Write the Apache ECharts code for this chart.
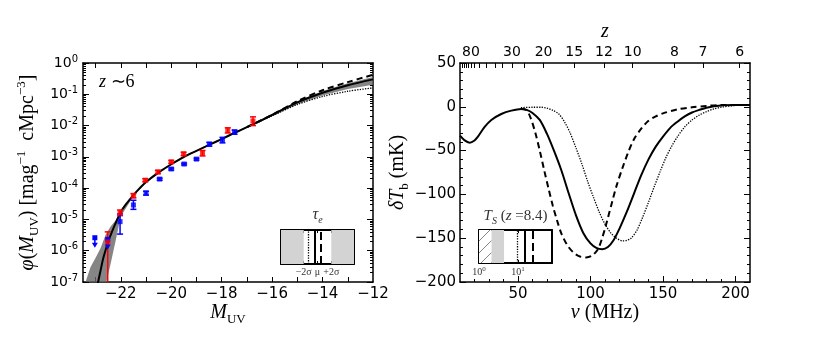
<!DOCTYPE html>
<html>
<head>
<meta charset="utf-8">
<script src="https://cdn.jsdelivr.net/npm/echarts@6/dist/echarts.min.js"></script>
<style>
html, body { margin: 0; padding: 0; background: #fff; }
#main { width: 814px; height: 354px; }
</style>
</head>
<body>
<div id="main"></div>
<script>
// ---------- left panel: UV luminosity function, z~6 ----------
var magModel = [-22.95, -22.9, -22.8, -22.7, -22.6, -22.5, -22.4, -22.25, -22.0, -21.75, -21.5, -21.25, -21.0, -20.5, -20.0, -19.5, -19.0, -18.5, -18.0, -17.5, -17.0, -16.5, -16.0, -15.0, -14.0, -13.0, -12.0];
var phiSolid = [6e-8, 1.0e-7, 2.4e-7, 5.6e-7, 1.07e-6, 2.0e-6, 3.2e-6, 6.3e-6, 1.74e-5, 3.4e-5, 6.0e-5, 1.0e-4, 1.58e-4, 3.2e-4, 5.8e-4, 1.0e-3, 1.55e-3, 2.4e-3, 3.7e-3, 5.8e-3, 8.9e-3, 1.38e-2, 2.2e-2, 5.5e-2, 0.112, 0.195, 0.30];

var magTail = [-17, -16, -15, -14, -13, -12];
var phiDashed = [8.9e-3, 2.2e-2, 6.0e-2, 0.135, 0.245, 0.42];
var phiDotted = [8.9e-3, 2.05e-2, 4.7e-2, 8.5e-2, 0.125, 0.16];

// uncertainty band around the fiducial model
var magBand = [-23.4, -23.2, -23.0, -22.8, -22.6, -22.4, -22.2, -22.0, -21.5, -21.0, -20.0, -19.0, -18.0, -17.0, -16.0, -15.0, -14.0, -13.0, -12.0];
var phiBandHi = [1.0e-7, 3.0e-7, 6.0e-7, 1.23e-6, 3.3e-6, 6.0e-6, 9.5e-6, 2.0e-5, 6.5e-5, 1.66e-4, 6.0e-4, 1.62e-3, 3.9e-3, 9.3e-3, 2.35e-2, 6.0e-2, 0.128, 0.225, 0.36];
var phiBandLo = [1.0e-7, 1.0e-7, 1.0e-7, 1.0e-7, 8e-8, 4.0e-7, 2.2e-6, 1.26e-5, 5.5e-5, 1.48e-4, 5.5e-4, 1.48e-3, 3.55e-3, 8.4e-3, 2.0e-2, 4.8e-2, 9.2e-2, 0.148, 0.20];

// observed points
var redMag = [-22.52, -22.03, -21.5, -21.03, -20.53, -20.0, -19.51, -18.76, -17.76, -16.76];
var redPhi = [1.9e-6, 1.66e-5, 5.7e-5, 1.8e-4, 3.3e-4, 6.9e-4, 1.25e-3, 1.3e-3, 7.0e-3, 1.4e-2];
var redLo = [1e-8, 1.32e-5, 4.9e-5, 1.6e-4, 2.9e-4, 6.2e-4, 1.1e-3, 1.07e-3, 5.8e-3, 1.0e-2];
var redHi = [4.0e-6, 2.0e-5, 6.7e-5, 2.0e-4, 3.7e-4, 7.7e-4, 1.4e-3, 1.6e-3, 8.5e-3, 1.9e-2];

var blueMag = [-22.03, -21.5, -21.0, -20.46, -20.0, -19.49, -19.0, -18.49, -17.97, -17.49];
var bluePhi = [8.5e-6, 2.9e-5, 6.9e-5, 1.95e-4, 4.1e-4, 5.9e-4, 8.5e-4, 2.55e-3, 3.4e-3, 6.2e-3];
var blueLo = [3.4e-6, 2.1e-5, 6.0e-5, 1.8e-4, 3.8e-4, 5.5e-4, 7.9e-4, 2.2e-3, 2.8e-3, 5.3e-3];
var blueHi = [1.5e-5, 4.1e-5, 8.0e-5, 2.1e-4, 4.4e-4, 6.3e-4, 9.1e-4, 2.9e-3, 4.2e-3, 7.2e-3];
var blueLimMag = [-23.03, -22.52];   // upper limits
var blueLimPhi = [2.6e-6, 2.3e-6];

var magLabels = [-22, -20, -18, -16, -14, -12];
var magTicks = [-23, -22, -21, -20, -19, -18, -17, -16, -15, -14, -13];
var phiMinor = [];
for (var k = -7; k < 0; k++) {
    for (var m = 2; m < 10; m++) phiMinor.push(m * Math.pow(10, k));
}

// ---------- right panel: global 21cm signal ----------
var nuSolid = [10, 13, 16.7, 20, 22.4, 27, 31.6, 38.5, 45.4, 52.3, 56, 60, 65, 70, 75, 80, 85, 90, 95, 100, 104, 108, 112, 116, 120, 125, 130, 135, 140, 145, 150, 155, 160, 165, 170, 175, 180, 190, 200, 210];
var tSolid = [-33, -38, -41, -38.5, -34, -23, -15, -8.2, -4.4, -2.5, -3.5, -7, -15, -31, -51, -73, -99, -124, -144, -156, -161, -162.5, -160, -152, -139, -120, -99, -78, -60, -45.5, -34, -24, -17, -11, -6.5, -3.5, -1, 1.5, 2, 2];

var nuDashed = [52, 56, 59, 62, 65, 68, 71, 74, 77, 80, 84, 88, 92, 97, 101, 105, 108, 111, 115, 118, 122, 126, 130, 135, 140, 145, 150, 160, 170, 180, 190, 210];
var tDashed = [-2.5, -4, -14, -30, -50, -72, -93, -113, -130, -145, -158, -166, -170.5, -172, -170, -163, -150, -133, -108, -90, -70, -52, -37, -25, -16, -11, -7.5, -3, -0.5, 1, 2, 2];

var nuDotted = [52, 60, 66, 70, 74, 78, 82, 86, 90, 94, 98, 102, 106, 110, 114, 118, 122, 125, 128, 132, 136, 140, 144, 148, 152, 156, 160, 165, 170, 175, 180, 185, 190, 200, 210];
var tDotted = [-1, -0.5, -0.5, -1.5, -4, -8, -17, -30, -47, -65, -85, -103, -120, -134, -144, -150, -153, -152.5, -150, -141, -126, -109, -91, -74, -58, -45, -34, -23, -15, -9.5, -5.5, -2.5, -0.5, 1.5, 2];

var nuLabels = [50, 100, 150, 200];
var nuMinor = [20, 30, 40, 60, 70, 80, 90, 110, 120, 130, 140, 160, 170, 180, 190];
var zLabels = [80, 30, 20, 15, 12, 10, 8, 7, 6];
var zTicks = [6, 7, 8, 10, 12, 15, 20, 25, 30, 35, 40, 50, 60, 70, 80, 90, 100, 110, 120];
var NU21 = 1420.4;
function zToNu(z) { return NU21 / (1 + z); }

// ---------- insets ----------
// tau_e inset, in units of sigma around the mean
var tauGray = [[-5.3, -2], [2, 5.3]];
var tauModels = [-1.3, -0.45, 0.4];   // dotted, solid, dashed
var tauTicks = [-2, 0, 2];
var tauTickText = ['\u22122\u03c3', '\u03bc', '+2\u03c3'];
// T_S(z=8.4) inset, log scale
var tsHatch = [1, 2.1];
var tsGray = [2.1, 4.4];
var tsModels = [9.8, 15.3, 24];      // dotted, solid, dashed

var black = '#000';
var tickFont = 'DejaVu Sans';
var mathFont = 'Liberation Serif';
var modelStyles = ['dotted', 'solid', 'dashed'];
var modelWidths = [1.3, 2, 2];

function minus(v) { return String(v).replace('-', '\u2212'); }

var mathRich = {
    t: { fontFamily: mathFont, fontSize: 20, color: black, lineHeight: 26 },
    i: { fontFamily: mathFont, fontSize: 20, fontStyle: 'italic', color: black, lineHeight: 26 },
    s: { fontFamily: mathFont, fontSize: 13, color: black, verticalAlign: 'bottom', lineHeight: 14, padding: [10, 0, 0, 0] },
    p: { fontFamily: mathFont, fontSize: 13, color: black, verticalAlign: 'top', lineHeight: 14, padding: [0, 0, 10, 0] }
};

var chart = echarts.init(document.getElementById('main'));

var hatch = document.createElement('canvas');
hatch.width = 12;
hatch.height = 12;
var hg = hatch.getContext('2d');
hg.fillStyle = '#fff';
hg.fillRect(0, 0, 12, 12);
hg.strokeStyle = '#666';
hg.lineWidth = 0.8;
hg.beginPath();
hg.moveTo(0, 12);
hg.lineTo(12, 0);
hg.stroke();

function frameLine(show) {
    return { show: show, onZero: false, lineStyle: { color: black, width: 1.5 } };
}

function errorBars(color) {
    return function (params, api) {
        var x = api.value(0);
        var lo = api.coord([x, api.value(2)]);
        var hi = api.coord([x, api.value(3)]);
        var w = 3;
        var st = { stroke: color, lineWidth: 1.5 };
        return {
            type: 'group',
            children: [
                { type: 'line', shape: { x1: lo[0], y1: lo[1], x2: hi[0], y2: hi[1] }, style: st },
                { type: 'line', shape: { x1: hi[0] - w, y1: hi[1], x2: hi[0] + w, y2: hi[1] }, style: st },
                { type: 'line', shape: { x1: lo[0] - w, y1: lo[1], x2: lo[0] + w, y2: lo[1] }, style: st }
            ]
        };
    };
}

function upperLimit(params, api) {
    var p = api.coord([api.value(0), api.value(1)]);
    return {
        type: 'group',
        children: [
            { type: 'rect', shape: { x: p[0] - 2.5, y: p[1] - 2.5, width: 5, height: 5 }, style: { fill: '#0000ff' } },
            { type: 'line', shape: { x1: p[0], y1: p[1], x2: p[0], y2: p[1] + 6 }, style: { stroke: '#0000ff', lineWidth: 1.5 } },
            { type: 'polygon', shape: { points: [[p[0] - 3, p[1] + 5], [p[0] + 3, p[1] + 5], [p[0], p[1] + 10]] }, style: { fill: '#0000ff' } }
        ]
    };
}

function bandRender(params, api) {
    if (params.dataIndex !== 0) return null;
    var pts = [];
    for (var i = 0; i < magBand.length; i++) pts.push(api.coord([magBand[i], phiBandHi[i]]));
    for (var j = magBand.length - 1; j >= 0; j--) pts.push(api.coord([magBand[j], phiBandLo[j]]));
    return { type: 'polygon', shape: { points: pts }, style: { fill: '#666', opacity: 0.8 } };
}

function modelMarkLines(values) {
    return {
        silent: true,
        symbol: ['none', 'none'],
        label: { show: false },
        data: values.map(function (v, i) {
            return { xAxis: v, lineStyle: { color: black, type: modelStyles[i], width: modelWidths[i] } };
        })
    };
}

var option = {
    animation: false,
    backgroundColor: '#fff',
    grid: [
        { left: 83, top: 63, width: 290, height: 219, outerBoundsMode: 'none' },
        { left: 460, top: 63, width: 290, height: 219, outerBoundsMode: 'none' },
        { left: 281, top: 230, width: 73, height: 34, outerBoundsMode: 'none' },
        { left: 479, top: 230, width: 73, height: 33, outerBoundsMode: 'none' }
    ],
    graphic: [{
        type: 'text', left: 99, top: 73,
        style: {
            text: '{i|z} \u223c6', fontFamily: mathFont, fontSize: 18, fill: black,
            rich: { i: { fontFamily: mathFont, fontSize: 18, fontStyle: 'italic' } }
        }
    }],
    xAxis: [
        { // 0: left bottom
            gridIndex: 0, type: 'value', min: -23.5, max: -12, position: 'bottom',
            axisLine: frameLine(true),
            axisTick: { inside: true, length: 5, customValues: magTicks, lineStyle: { color: black } },
            axisLabel: { customValues: magLabels, formatter: minus, color: black, fontFamily: tickFont, fontSize: 15, margin: 5 },
            splitLine: { show: false },
            name: '{i|M}{s|UV}', nameLocation: 'middle', nameGap: 18, nameMoveOverlap: false,
            nameTextStyle: { rich: mathRich }
        },
        { // 1: left top
            gridIndex: 0, type: 'value', min: -23.5, max: -12, position: 'top',
            axisLine: frameLine(true),
            axisTick: { inside: true, length: 5, customValues: magTicks, lineStyle: { color: black } },
            axisLabel: { show: false }, splitLine: { show: false }
        },
        { // 2: right bottom
            gridIndex: 1, type: 'value', min: 10, max: 210, position: 'bottom',
            axisLine: frameLine(true),
            axisTick: { inside: true, length: 6, customValues: nuLabels, lineStyle: { color: black } },
            axisLabel: { customValues: nuLabels, color: black, fontFamily: tickFont, fontSize: 15, margin: 5 },
            splitLine: { show: false },
            name: '{i|\u03bd}{t| (MHz)}', nameLocation: 'middle', nameGap: 18, nameMoveOverlap: false,
            nameTextStyle: { rich: mathRich }
        },
        { // 3: right bottom minor ticks
            gridIndex: 1, type: 'value', min: 10, max: 210, position: 'bottom',
            axisLine: frameLine(false),
            axisTick: { inside: true, length: 3, customValues: nuMinor, lineStyle: { color: black } },
            axisLabel: { show: false }, splitLine: { show: false }
        },
        { // 4: right top, redshift
            gridIndex: 1, type: 'value', min: 10, max: 210, position: 'top',
            axisLine: frameLine(true),
            axisTick: { inside: true, length: 5, customValues: zTicks.map(zToNu), lineStyle: { color: black } },
            axisLabel: {
                customValues: zLabels.map(zToNu), color: black, fontFamily: tickFont, fontSize: 14, margin: 4,
                formatter: function (v) { return String(Math.round(NU21 / v - 1)); }
            },
            splitLine: { show: false },
            name: '{i|z}', nameLocation: 'middle', nameGap: 18, nameMoveOverlap: false,
            nameTextStyle: { rich: mathRich }
        },
        { // 5: tau inset bottom
            gridIndex: 2, type: 'value', min: -5.3, max: 5.3, position: 'bottom',
            axisLine: { show: true, onZero: false, lineStyle: { color: black, width: 2 } },
            axisTick: { inside: true, length: 3, customValues: tauTicks, lineStyle: { color: black } },
            axisLabel: {
                customValues: tauTicks, color: '#333', fontFamily: mathFont, fontSize: 10, margin: 3,
                formatter: function (v) { return tauTickText[tauTicks.indexOf(Math.round(v))]; }
            },
            splitLine: { show: false }
        },
        { // 6: tau inset top
            gridIndex: 2, type: 'value', min: -5.3, max: 5.3, position: 'top',
            axisLine: { show: true, onZero: false, lineStyle: { color: black, width: 2 } },
            axisTick: { inside: true, length: 3, customValues: tauTicks, lineStyle: { color: black } },
            axisLabel: { show: false }, splitLine: { show: false },
            name: '{i|\u03c4}{s|e}', nameLocation: 'middle', nameGap: 5,
            nameTextStyle: {
                rich: {
                    i: { fontFamily: mathFont, fontSize: 16, fontStyle: 'italic', color: '#333', lineHeight: 20 },
                    s: { fontFamily: mathFont, fontSize: 10, fontStyle: 'italic', color: '#333', verticalAlign: 'bottom', lineHeight: 10, padding: [10, 0, 0, 0] }
                }
            }
        },
        { // 7: T_S inset bottom
            gridIndex: 3, type: 'log', logBase: 10, min: 1, max: 75, position: 'bottom',
            axisLine: { show: true, onZero: false, lineStyle: { color: black, width: 2 } },
            axisTick: { inside: true, length: 3, customValues: [1, 10], lineStyle: { color: black } },
            axisLabel: {
                customValues: [1, 10], color: '#333', fontFamily: mathFont, fontSize: 10, margin: 3,
                formatter: function (v) { return '{b|10}{e|' + Math.round(Math.log10(v)) + '}'; },
                rich: {
                    b: { fontFamily: mathFont, fontSize: 10, color: '#333', lineHeight: 12 },
                    e: { fontFamily: mathFont, fontSize: 7, color: '#333', verticalAlign: 'top', lineHeight: 7, padding: [0, 0, 5, 0] }
                }
            },
            splitLine: { show: false }, minorTick: { show: false }
        },
        { // 8: T_S inset top
            gridIndex: 3, type: 'log', logBase: 10, min: 1, max: 75, position: 'top',
            axisLine: { show: true, onZero: false, lineStyle: { color: black, width: 2 } },
            axisTick: { inside: true, length: 3, customValues: [1, 10], lineStyle: { color: black } },
            axisLabel: { show: false }, splitLine: { show: false },
            name: '{i|T}{s|S}{t| (}{i|z}{t| =8.4)}', nameLocation: 'middle', nameGap: 4,
            nameTextStyle: {
                rich: {
                    t: { fontFamily: mathFont, fontSize: 15, color: '#333', lineHeight: 20 },
                    i: { fontFamily: mathFont, fontSize: 15, fontStyle: 'italic', color: '#333', lineHeight: 20 },
                    s: { fontFamily: mathFont, fontSize: 10, fontStyle: 'italic', color: '#333', verticalAlign: 'bottom', lineHeight: 10, padding: [10, 0, 0, 0] }
                }
            }
        }
    ],
    yAxis: [
        { // 0: left main, log
            gridIndex: 0, type: 'log', logBase: 10, min: 1e-7, max: 1, position: 'left',
            axisLine: frameLine(true),
            axisTick: { inside: true, length: 6, lineStyle: { color: black } },
            axisLabel: {
                color: black, margin: 5,
                formatter: function (v) { return '{b|10}{e|' + Math.round(Math.log10(v)) + '}'; },
                rich: {
                    b: { fontFamily: tickFont, fontSize: 14, color: black, lineHeight: 18 },
                    e: { fontFamily: tickFont, fontSize: 10, color: black, verticalAlign: 'top', lineHeight: 10, padding: [0, 0, 8, 0] }
                }
            },
            splitLine: { show: false },
            name: '{i|\u03c6}{t|(}{i|M}{s|UV}{t|) [mag}{p|\u22121}{t|  cMpc}{p|\u22123}{t|]}',
            nameLocation: 'middle', nameGap: 42, nameRotate: 90,
            nameTextStyle: { rich: mathRich }
        },
        { // 1: left main, right side
            gridIndex: 0, type: 'log', logBase: 10, min: 1e-7, max: 1, position: 'right',
            axisLine: frameLine(true),
            axisTick: { inside: true, length: 6, lineStyle: { color: black } },
            axisLabel: { show: false }, splitLine: { show: false }
        },
        { // 2: minor ticks left
            gridIndex: 0, type: 'log', logBase: 10, min: 1e-7, max: 1, position: 'left',
            axisLine: frameLine(false),
            axisTick: { inside: true, length: 3, customValues: phiMinor, lineStyle: { color: black } },
            axisLabel: { show: false }, splitLine: { show: false }
        },
        { // 3: minor ticks right
            gridIndex: 0, type: 'log', logBase: 10, min: 1e-7, max: 1, position: 'right',
            axisLine: frameLine(false),
            axisTick: { inside: true, length: 3, customValues: phiMinor, lineStyle: { color: black } },
            axisLabel: { show: false }, splitLine: { show: false }
        },
        { // 4: right main
            gridIndex: 1, type: 'value', min: -200, max: 50, interval: 50, position: 'left',
            axisLine: frameLine(true),
            axisTick: { inside: true, length: 6, lineStyle: { color: black } },
            minorTick: { show: true, splitNumber: 5, length: 3, lineStyle: { color: black } },
            axisLabel: { formatter: minus, color: black, fontFamily: tickFont, fontSize: 15, margin: 4 },
            splitLine: { show: false },
            name: '{i|\u03b4T}{s|b}{t| (mK)}', nameLocation: 'middle', nameGap: 48, nameRotate: 90,
            nameTextStyle: { rich: mathRich }
        },
        { // 5: right main, right side
            gridIndex: 1, type: 'value', min: -200, max: 50, interval: 50, position: 'right',
            axisLine: frameLine(true),
            axisTick: { inside: true, length: 6, lineStyle: { color: black } },
            minorTick: { show: true, splitNumber: 5, length: 3, lineStyle: { color: black } },
            axisLabel: { show: false }, splitLine: { show: false }
        },
        { gridIndex: 2, type: 'value', min: 0, max: 1, position: 'left', axisLine: { show: true, onZero: false, lineStyle: { color: black, width: 2 } }, axisTick: { show: false }, axisLabel: { show: false }, splitLine: { show: false } },
        { gridIndex: 2, type: 'value', min: 0, max: 1, position: 'right', axisLine: { show: true, onZero: false, lineStyle: { color: black, width: 2 } }, axisTick: { show: false }, axisLabel: { show: false }, splitLine: { show: false } },
        { gridIndex: 3, type: 'value', min: 0, max: 1, position: 'left', axisLine: { show: true, onZero: false, lineStyle: { color: black, width: 2 } }, axisTick: { show: false }, axisLabel: { show: false }, splitLine: { show: false } },
        { gridIndex: 3, type: 'value', min: 0, max: 1, position: 'right', axisLine: { show: true, onZero: false, lineStyle: { color: black, width: 2 } }, axisTick: { show: false }, axisLabel: { show: false }, splitLine: { show: false } }
    ],
    series: [
        {
            name: 'band', type: 'custom', xAxisIndex: 0, yAxisIndex: 0, clip: true, silent: true, z: 1,
            renderItem: bandRender,
            data: magBand.map(function (m, i) { return [m, phiBandHi[i]]; })
        },
        {
            name: 'dotted', type: 'line', xAxisIndex: 0, yAxisIndex: 0, symbol: 'none', smooth: 0.3,
            lineStyle: { color: black, width: 1.3, type: 'dotted' },
            data: magTail.map(function (m, i) { return [m, phiDotted[i]]; })
        },
        {
            name: 'dashed', type: 'line', xAxisIndex: 0, yAxisIndex: 0, symbol: 'none', smooth: 0.3,
            lineStyle: { color: black, width: 2, type: [6, 4] },
            data: magTail.map(function (m, i) { return [m, phiDashed[i]]; })
        },
        {
            name: 'fiducial', type: 'line', xAxisIndex: 0, yAxisIndex: 0, symbol: 'none', smooth: 0.3,
            lineStyle: { color: black, width: 2 },
            data: magModel.map(function (m, i) { return [m, phiSolid[i]]; })
        },
        {
            name: 'red err', type: 'custom', xAxisIndex: 0, yAxisIndex: 0, clip: true, z: 4,
            renderItem: errorBars('#ff0000'), encode: { x: 0, y: 1 },
            data: redMag.map(function (m, i) { return [m, redPhi[i], redLo[i], redHi[i]]; })
        },
        {
            name: 'red', type: 'scatter', xAxisIndex: 0, yAxisIndex: 0, symbol: 'rect', symbolSize: 5, z: 5,
            itemStyle: { color: '#ff0000' },
            data: redMag.map(function (m, i) { return [m, redPhi[i]]; })
        },
        {
            name: 'blue err', type: 'custom', xAxisIndex: 0, yAxisIndex: 0, clip: true, z: 4,
            renderItem: errorBars('#0000ff'), encode: { x: 0, y: 1 },
            data: blueMag.map(function (m, i) { return [m, bluePhi[i], blueLo[i], blueHi[i]]; })
        },
        {
            name: 'blue', type: 'scatter', xAxisIndex: 0, yAxisIndex: 0, symbol: 'rect', symbolSize: 5, z: 5,
            itemStyle: { color: '#0000ff' },
            data: blueMag.map(function (m, i) { return [m, bluePhi[i]]; })
        },
        {
            name: 'blue limits', type: 'custom', xAxisIndex: 0, yAxisIndex: 0, z: 5,
            renderItem: upperLimit, encode: { x: 0, y: 1 },
            data: blueLimMag.map(function (m, i) { return [m, blueLimPhi[i]]; })
        },
        {
            name: 'dTb dotted', type: 'line', xAxisIndex: 2, yAxisIndex: 4, symbol: 'none', smooth: 0.3,
            lineStyle: { color: black, width: 1.3, type: 'dotted' },
            data: nuDotted.map(function (v, i) { return [v, tDotted[i]]; })
        },
        {
            name: 'dTb dashed', type: 'line', xAxisIndex: 2, yAxisIndex: 4, symbol: 'none', smooth: 0.3,
            lineStyle: { color: black, width: 2, type: [6, 4] },
            data: nuDashed.map(function (v, i) { return [v, tDashed[i]]; })
        },
        {
            name: 'dTb fiducial', type: 'line', xAxisIndex: 2, yAxisIndex: 4, symbol: 'none', smooth: 0.3,
            lineStyle: { color: black, width: 2 },
            data: nuSolid.map(function (v, i) { return [v, tSolid[i]]; })
        },
        {
            name: 'tau inset', type: 'line', xAxisIndex: 5, yAxisIndex: 6, data: [],
            markArea: {
                silent: true, itemStyle: { color: '#d3d3d3' },
                data: tauGray.map(function (r) { return [{ xAxis: r[0] }, { xAxis: r[1] }]; })
            },
            markLine: modelMarkLines(tauModels)
        },
        {
            name: 'Ts inset', type: 'line', xAxisIndex: 7, yAxisIndex: 8, data: [],
            markArea: {
                silent: true,
                data: [
                    [{ xAxis: tsHatch[0], itemStyle: { color: { image: hatch, repeat: 'repeat' } } }, { xAxis: tsHatch[1] }],
                    [{ xAxis: tsGray[0], itemStyle: { color: '#d3d3d3' } }, { xAxis: tsGray[1] }]
                ]
            },
            markLine: modelMarkLines(tsModels)
        }
    ]
};

chart.setOption(option);
</script>
</body>
</html>
